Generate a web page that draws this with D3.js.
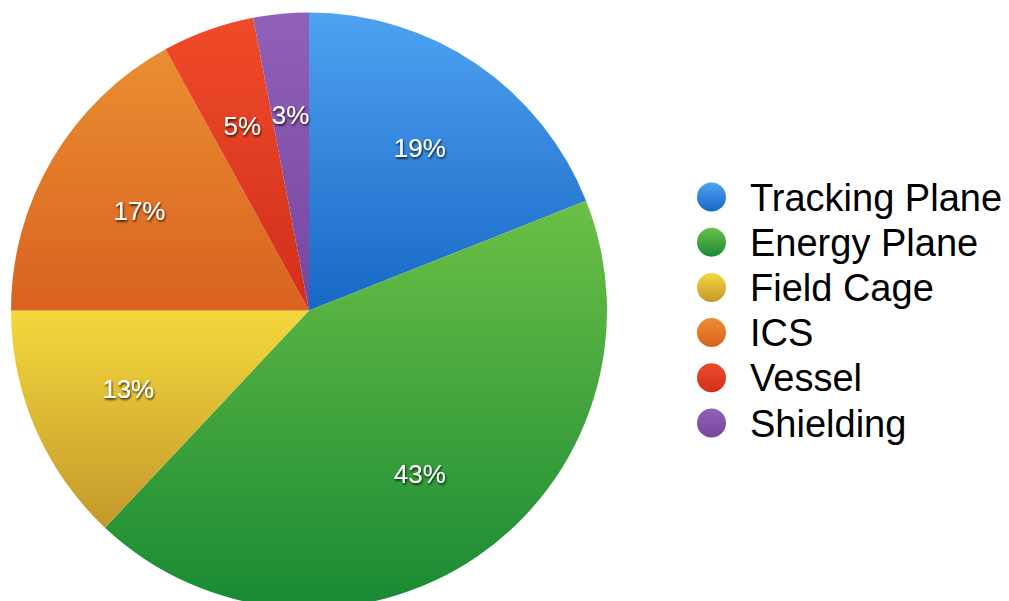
<!DOCTYPE html>
<html>
<head>
<meta charset="utf-8">
<script src="https://cdn.jsdelivr.net/npm/d3@7"></script>
<style>
  html, body { margin: 0; padding: 0; background: #ffffff; }
  svg { display: block; }
</style>
</head>
<body>
<svg id="chart" width="1009" height="601"></svg>
<script>
// Share of each detector component (percent)
const categories = ["Tracking Plane", "Energy Plane", "Field Cage", "ICS", "Vessel", "Shielding"];
const shares = [19, 43, 13, 17, 5, 3];
// Top (light) and bottom (dark) colour of each slice's gradient
const topColors = ["#4ea2f2", "#6cc046", "#f4d83c", "#ea8e32", "#ef4b29", "#9160b8"];
const bottomColors = ["#1768c4", "#188a34", "#c4982b", "#d9621f", "#d22e1b", "#77469e"];

const W = 1009, H = 601;
const cx = 309, cy = 310.5, R = 298, labelR = 197;

const svg = d3.select("#chart");
const defs = svg.append("defs");

categories.forEach((c, i) => {
  const g = defs.append("linearGradient")
    .attr("id", "grad" + i)
    .attr("x1", 0).attr("y1", 0).attr("x2", 0).attr("y2", 1);
  g.append("stop").attr("offset", "0%").attr("stop-color", topColors[i]);
  g.append("stop").attr("offset", "100%").attr("stop-color", bottomColors[i]);
});

const shadow = defs.append("filter").attr("id", "txtShadow")
  .attr("x", "-20%").attr("y", "-20%").attr("width", "140%").attr("height", "160%");
shadow.append("feDropShadow")
  .attr("dx", 0.8).attr("dy", 1.6).attr("stdDeviation", 1)
  .attr("flood-color", "#000").attr("flood-opacity", 0.85);

const pie = d3.pie().sort(null).value(d => d).startAngle(0).endAngle(2 * Math.PI);
const arcs = pie(shares);
const arc = d3.arc().innerRadius(0).outerRadius(R);
const labelArc = d3.arc().innerRadius(labelR).outerRadius(labelR);

const g = svg.append("g").attr("transform", `translate(${cx},${cy})`);

g.selectAll("path.slice")
  .data(arcs)
  .join("path")
  .attr("class", "slice")
  .attr("d", arc)
  .attr("fill", (d, i) => `url(#grad${i})`);

g.selectAll("text.pct")
  .data(arcs)
  .join("text")
  .attr("class", "pct")
  .attr("transform", d => `translate(${labelArc.centroid(d)})`)
  .attr("text-anchor", "middle")
  .attr("dy", "0.36em")
  .attr("font-family", "'Liberation Sans', Arial, sans-serif")
  .attr("font-size", 26)
  .attr("fill", "#ffffff")
  .attr("filter", "url(#txtShadow)")
  .text(d => d.data + "%");

// Legend
const legend = svg.append("g");
const rowY = d3.scalePoint().domain(categories).range([197, 423]);

const rows = legend.selectAll("g.row")
  .data(categories)
  .join("g")
  .attr("class", "row")
  .attr("transform", d => `translate(0,${rowY(d)})`);

rows.append("circle")
  .attr("cx", 711.5)
  .attr("cy", 0)
  .attr("r", 14.5)
  .attr("fill", (d, i) => `url(#grad${i})`);

rows.append("text")
  .attr("x", 750)
  .attr("y", 13.5)
  .attr("font-family", "'Liberation Sans', Arial, sans-serif")
  .attr("font-size", 38)
  .attr("fill", "#000000")
  .text(d => d);
</script>
</body>
</html>
